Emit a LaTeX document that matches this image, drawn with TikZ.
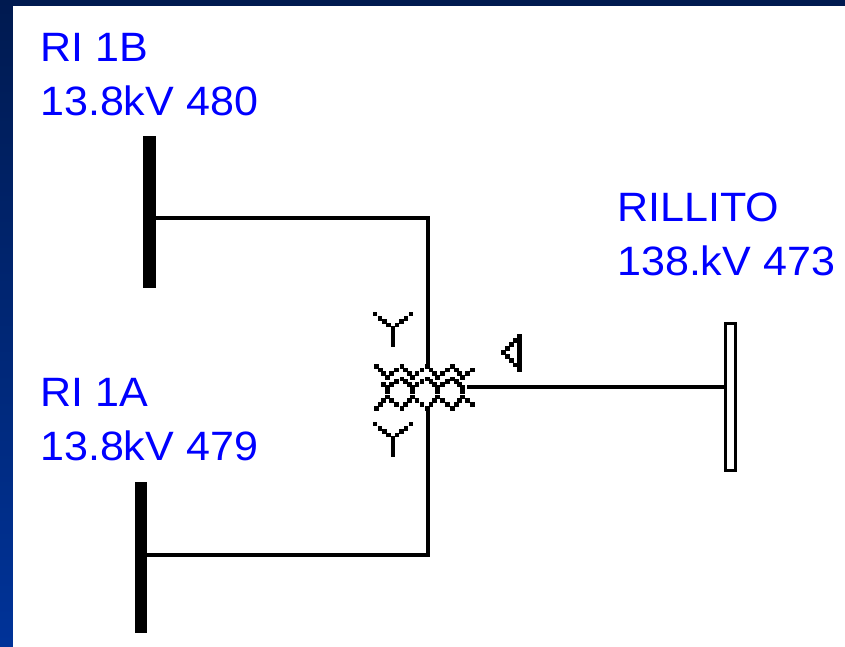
\documentclass[tikz,border=0pt]{standalone}
\usepackage{fontspec}
\setmainfont{Liberation Sans}
\newcommand{\pixdot}[2]{\fill[black] ({#1-2.45},{#2-2.3}) rectangle ({#1+2.45},{#2+2.3});}
\begin{document}
\begin{tikzpicture}[x=1pt,y=-1pt,
  lbl/.style={inner sep=0pt,anchor=base west,text=blue,font=\fontsize{41}{41}\selectfont,xscale=1.05},
  busbar/.style={fill=black,draw=none,inner sep=0pt,minimum width=#1},
  wire/.style={line width=4pt,black}]
\definecolor{topnavy}{HTML}{001A50}
\definecolor{botnavy}{HTML}{003399}
\useasboundingbox (0,0) rectangle (845,646);
\shade[top color=topnavy,bottom color=botnavy,shading angle=0] (0,0) rectangle (850,650);
\fill[white] (13,6) rectangle (850,650);
% labels
\node[lbl] (t1) at (40,61) {RI 1B};
\node[lbl] (t2) at (40,115) {13.8kV 480};
\node[lbl] (t3) at (40,406) {RI 1A};
\node[lbl] (t4) at (40,460) {13.8kV 479};
\node[lbl] (t5) at (617,221) {RILLITO};
\node[lbl] (t6) at (617,275) {138.kV 473};
% buses
\node[busbar=13pt,minimum height=152pt] (busB) at (149.5,212) {};
\node[busbar=12pt,minimum height=151pt] (busA) at (141,557.5) {};
\node[draw=black,line width=3pt,fill=white,inner sep=0pt,minimum width=10pt,minimum height=147pt] (busR) at (730,397) {};
% transformer connection points
\coordinate (xtop) at (428,366);
\coordinate (xbot) at (428,407);
\coordinate (xright) at (467,387);
\draw[wire] (busB.east |- 0,217.5) -| (xtop);
\draw[wire] (busA.east |- 0,554.5) -| (xbot);
\draw[wire] (xright) -- (busR.west |- xright);
% windings, drawn as the screen pixels of the reference
\foreach \v in {387.3,412.5,437.7}{
  \foreach \dx/\r in {0/3.7,4.5/2.8,9.5/1.9,14.7/1,18.5/1.9,21.8/2.8,
                      14.7/4,9.5/4.7,18.5/4.7,21.8/5.4,4.5/5.4,0/6,0/7.1,0/8.3,
                      4.5/9.2,9.5/10.1,14.7/11,18.5/10.1,21.8/9.2}{
    \pixdot{\v+\dx}{362+4.2*\r}
  }
}
\foreach \dx/\r in {14.7/1,18.5/1.9,21.8/2.8,21.8/5.4,14.7/11,18.5/10.1,21.8/9.2}{
  \pixdot{362.1+\dx}{362+4.2*\r}
}
\foreach \dx/\r in {0/3.7,4.5/2.8,9.5/1.9,0/6,0/7.1,0/8.3,4.5/9.2,9.5/10.1}{
  \pixdot{462.9+\dx}{362+4.2*\r}
}
% Y marks
\foreach \o in {0,110}{
  \foreach \px/\py in {375/314,380/318.3,384.3/321.7,388.3/325,397/325,401.7/321.7,406/318.3,411/314}{
    \pixdot{\px}{\py+\o}
  }
  \fill[black] (391,326+\o) rectangle (395.4,347+\o);
}
% delta mark
\fill[black] (517.3,334) rectangle (522,371.5);
\foreach \px/\py in {503.3/352.3,507.3/348.3,511.3/344.3,515.7/340.7,507.3/356.3,511.3/360.7,515.7/365}{
  \pixdot{\px}{\py}
}
\end{tikzpicture}
\end{document}
